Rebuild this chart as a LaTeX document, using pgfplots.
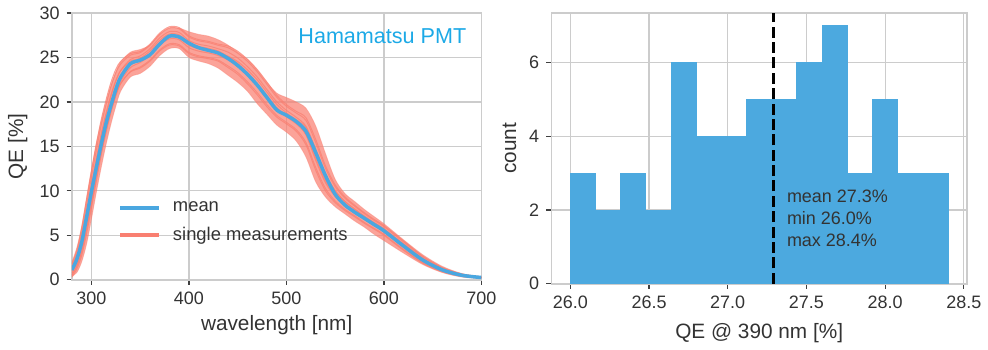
\documentclass[border=0pt]{standalone}
\usepackage{fontspec}
\setmainfont{Liberation Sans}
\usepackage{pgfplots}
\usepackage{pgfplotstable}
\pgfplotsset{compat=1.18}
\definecolor{meanblue}{HTML}{4AA7E0}
\definecolor{histblue}{HTML}{4CA9DF}
\definecolor{salm}{HTML}{F97F71}
\definecolor{titleblue}{HTML}{1CA9E6}
\definecolor{framegray}{HTML}{CCCCCC}
\definecolor{textgray}{HTML}{333333}

% mean curve and individual measurements
\pgfplotstableread{
x M A B C D E F G H
280 1.1 1.52 0.50 1.02 0.28 1.78 0.73 1.25 0.52
285 2.3 2.93 1.51 2.23 1.22 3.27 1.80 2.53 1.55
290 4.2 5.31 3.13 4.26 2.72 5.84 3.57 4.70 3.22
295 7.0 8.40 5.64 7.11 5.18 9.05 6.16 7.62 5.81
300 9.9 11.54 8.49 10.15 8.08 12.21 9.02 10.65 8.76
305 12.6 14.58 11.43 13.20 11.09 15.26 11.92 13.65 11.78
310 15.2 17.35 14.24 16.04 14.03 17.97 14.67 16.40 14.69
315 17.6 19.67 16.69 18.47 16.60 20.23 17.04 18.74 17.21
320 19.6 21.69 18.86 20.60 18.87 22.19 19.12 20.78 19.44
325 21.4 23.26 20.67 22.33 20.81 23.67 20.84 22.40 21.31
330 22.8 24.27 22.04 23.55 22.32 24.57 22.10 23.50 22.73
340 24.3 25.26 23.43 24.77 23.86 25.44 23.37 24.58 24.16
350 24.7 25.54 23.93 25.17 24.43 25.67 23.81 24.92 24.68
360 25.3 26.37 24.70 25.98 25.22 26.50 24.58 25.73 25.47
370 26.5 27.60 25.86 27.20 26.40 27.74 25.73 26.93 26.67
380 27.4 28.33 26.54 27.91 27.09 28.46 26.40 27.64 27.36
390 27.3 28.22 26.44 27.81 26.99 28.36 26.30 27.54 27.26
400 26.6 27.30 25.57 26.90 26.10 27.43 25.44 26.63 26.37
410 26.1 26.88 25.19 26.49 25.71 27.01 25.06 26.23 25.97
420 25.8 26.68 24.99 26.29 25.51 26.81 24.86 26.03 25.77
430 25.5 26.37 24.70 25.98 25.22 26.50 24.58 25.73 25.47
440 24.9 26.10 24.05 25.60 24.72 26.29 23.87 25.10 25.15
450 24.1 25.48 23.30 24.94 24.03 25.70 23.10 24.35 24.54
460 23.1 24.56 22.26 23.97 23.05 24.79 22.04 23.30 23.61
470 21.9 23.40 21.05 22.80 21.87 23.65 20.81 22.05 22.48
480 20.5 21.98 19.69 21.39 20.49 22.23 19.45 20.63 21.09
490 19.1 20.54 18.50 20.02 19.21 20.75 18.30 19.38 19.73
500 18.5 19.51 17.70 19.05 18.32 19.70 17.53 18.52 18.77
510 17.8 18.75 16.89 18.27 17.53 18.94 16.70 17.69 18.01
520 16.7 17.92 15.44 17.26 16.35 18.22 15.17 16.28 17.11
530 14.3 15.43 12.63 14.66 13.69 15.78 12.31 13.43 14.64
540 11.7 12.55 10.27 11.92 11.13 12.83 10.00 10.91 11.90
550 9.6 10.46 8.86 10.03 9.46 10.66 8.68 9.37 9.97
560 8.4 9.17 7.91 8.83 8.37 9.32 7.78 8.34 8.76
570 7.6 8.26 7.20 7.98 7.58 8.38 7.08 7.58 7.90
580 6.9 7.42 6.44 7.16 6.80 7.53 6.34 6.78 7.09
590 6.2 6.67 5.78 6.44 6.11 6.78 5.68 6.09 6.38
600 5.5 5.97 5.09 5.73 5.42 6.09 4.99 5.38 5.70
620 3.8 4.26 3.42 4.03 3.74 4.38 3.32 3.65 4.04
640 2.2 2.55 1.92 2.38 2.17 2.64 1.84 2.07 2.40
660 1.1 1.32 0.93 1.21 1.08 1.37 0.88 1.02 1.23
680 0.5 0.62 0.41 0.56 0.49 0.64 0.38 0.45 0.58
700 0.25 0.26 0.24 0.25 0.25 0.26 0.24 0.25 0.25
}\qetable

% outline of the band of all single measurements (upper edge, then lower edge back)
\pgfplotstableread{
x y
280 2.0
285 3.6
290 6.0
295 9.2
300 12.4
305 15.3
310 17.8
315 20.0
320 21.9
325 23.4
330 24.5
340 25.6
350 25.9
360 26.4
370 27.6
380 28.3
390 28.3
400 27.9
410 27.6
420 27.4
430 27.0
440 26.4
450 25.6
460 24.8
470 23.6
480 22.2
490 21.0
500 20.5
510 20.0
520 19.3
530 17.3
540 14.2
550 11.3
560 9.7
570 8.8
580 7.9
590 7.1
600 6.3
620 4.5
640 2.8
660 1.5
680 0.7
700 0.35
700 0.15
680 0.3
660 0.8
640 1.7
620 3.0
600 4.4
590 5.1
580 5.9
570 6.6
560 7.4
550 8.2
540 9.3
530 11.0
520 13.8
510 15.6
500 16.6
490 17.4
480 18.6
470 19.8
460 21.2
450 22.2
440 23.0
430 23.8
420 24.3
410 24.6
400 25.0
390 26.0
380 26.0
370 25.2
360 24.0
350 23.2
340 22.8
330 21.2
325 19.5
320 17.5
315 15.2
310 12.6
305 9.8
300 6.8
295 4.0
290 2.0
285 0.8
280 0.4
}\bandtable

\pgfplotstableread{
left count
26.00 3
26.16 2
26.32 3
26.48 2
26.64 6
26.80 4
26.96 4
27.12 5
27.28 5
27.44 6
27.60 7
27.76 3
27.92 5
28.08 3
28.24 3
28.40 3
}\histtable

\pgfplotsset{
  mystyle/.style={
    scale only axis,
    axis line style={color=framegray, line width=0.9pt},
    grid=major,
    major grid style={color=framegray, line width=0.6pt},
    tick align=outside,
    major tick length=2.6pt,
    tick style={color=black!75, line width=0.6pt},
    xtick pos=bottom, ytick pos=left,
    ticklabel style={font=\fontsize{9}{10}\selectfont, text=textgray},
    label style={font=\fontsize{10.4}{12}\selectfont, text=textgray},
    /pgf/number format/assume math mode=true,
  },
  single/.style={salm, line width=0.5pt, opacity=0.75, smooth, forget plot},
}

\begin{document}
\begin{tikzpicture}
\begin{axis}[
  mystyle,
  width=205pt, height=133.5pt,
  xmin=280, xmax=700, ymin=0, ymax=30,
  xtick={300,400,500,600,700},
  ytick={0,5,10,15,20,25,30},
  xlabel={wavelength [nm]},
  ylabel={QE [\%]},
  xlabel style={at={(axis description cs:0.5,-0.172)}, anchor=center},
  ylabel style={at={(axis description cs:-0.132,0.5)}, anchor=center},
  legend style={at={(axis description cs:0.097,0.215)}, anchor=west, draw=none, fill=none,
    font=\fontsize{9.2}{11}\selectfont, text=textgray, row sep=2.2pt, column sep=4pt},
  legend cell align=left,
  legend image code/.code={\draw[#1] (0pt,0pt) -- (19.5pt,0pt);},
]
\addlegendimage{meanblue, line width=2pt}
\addlegendentry{mean}
\addlegendimage{salm, line width=2pt}
\addlegendentry{single measurements}
\addplot[fill=salm, fill opacity=0.72, draw=salm, draw opacity=0.4, line width=0.4pt, smooth, forget plot] table[x=x, y=y] {\bandtable};
\addplot[single] table[x=x, y=E] {\qetable};
\addplot[single] table[x=x, y=F] {\qetable};
\addplot[single] table[x=x, y=A] {\qetable};
\addplot[single] table[x=x, y=B] {\qetable};
\addplot[single] table[x=x, y=C] {\qetable};
\addplot[single] table[x=x, y=D] {\qetable};
\addplot[single] table[x=x, y=G] {\qetable};
\addplot[single] table[x=x, y=H] {\qetable};
\addplot[meanblue, line width=1.75pt, smooth, forget plot] table[x=x, y=M] {\qetable};
\node[anchor=center, text=titleblue, font=\fontsize{10.8}{12}\selectfont] at (axis description cs:0.758,0.914) {Hamamatsu PMT};
\end{axis}

\begin{axis}[
  mystyle,
  at={(240pt,-2pt)},
  width=208pt, height=135.5pt,
  xmin=25.88, xmax=28.52, ymin=0, ymax=7.35,
  xtick={26.0,26.5,27.0,27.5,28.0,28.5},
  ytick={0,2,4,6},
  xticklabel style={/pgf/number format/.cd, fixed, fixed zerofill, precision=1},
  xlabel={QE @ 390 nm [\%]},
  ylabel={count},
  xlabel style={at={(axis description cs:0.5,-0.181)}, anchor=center},
  ylabel style={at={(axis description cs:-0.101,0.5)}, anchor=center},
]
\addplot[ybar interval, fill=histblue, draw=histblue, line width=0pt] table[x=left, y=count] {\histtable};
\addplot[black, line width=1.5pt, dash pattern=on 5.5pt off 2.2pt] coordinates {(27.29,0) (27.29,7.35)};
\node[anchor=north west, align=left, text=textgray, font=\fontsize{9}{10.9}\selectfont, inner sep=0pt] at (axis cs:27.374,2.55) {mean 27.3\%\\min 26.0\%\\max 28.4\%};
\end{axis}
\path (-36pt,-33.5pt) rectangle (458pt,138.5pt);
\end{tikzpicture}
\end{document}
